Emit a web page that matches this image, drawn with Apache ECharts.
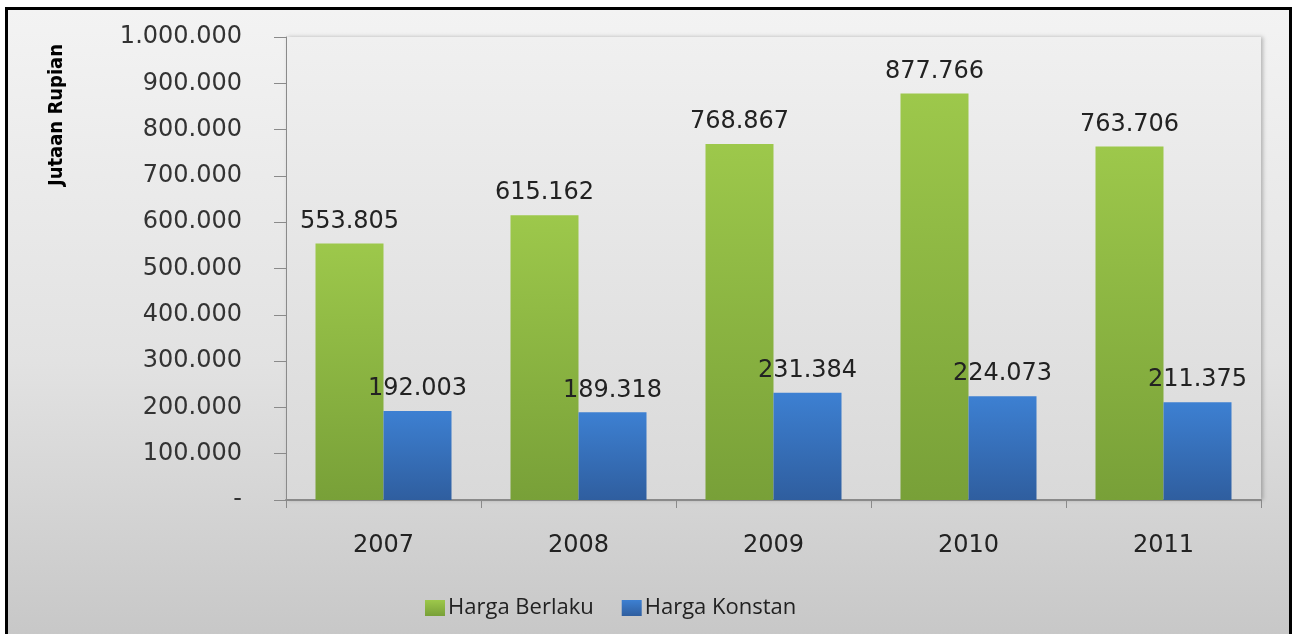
<!DOCTYPE html>
<html>
<head>
<meta charset="utf-8">
<title>Harga Berlaku dan Harga Konstan</title>
<script src="https://cdn.jsdelivr.net/npm/echarts@6/dist/echarts.min.js"></script>
<style>
	body { margin: 0; background: #fff; }
	#frame {
		position: absolute; left: 5px; top: 7px; width: 1281px; height: 640px;
		border: 3px solid #000;
		background: linear-gradient(to bottom, #f3f3f3 0%, #e2e2e2 55%, #c6c6c6 100%);
	}
	#chart { position: absolute; left: 0; top: 0; width: 1297px; height: 634px; }
</style>
</head>
<body>
<div id="frame"></div>
<div id="chart"></div>
<script>
// data
var years = ['2007', '2008', '2009', '2010', '2011'];
var hargaBerlaku = [553805, 615162, 768867, 877766, 763706];
var hargaKonstan = [192003, 189318, 231384, 224073, 211375];
var seriesNames = ['Harga Berlaku', 'Harga Konstan'];

function dots(v) {
	if (v === 0) return '-';
	return String(v).replace(/\B(?=(\d{3})+(?!\d))/g, '.');
}

(function(){
	var chart = echarts.init(document.getElementById('chart'));
	var labelFont = 'DejaVu Sans, Verdana, sans-serif';

	var option = {
		animation: false,
		grid: {
			left: 286,
			right: 36,
			top: 37,
			bottom: 134,
			show: true,
			borderWidth: 0,
			backgroundColor: new echarts.graphic.LinearGradient(0, 0, 0, 1, [
				{ offset: 0, color: '#f0f0f0' },
				{ offset: 1, color: '#d9d9d9' }
			]),
			shadowColor: 'rgba(0,0,0,0.25)',
			shadowBlur: 4,
			shadowOffsetX: 2
		},
		graphic: [{
			type: 'text',
			x: 57,
			y: 115,
			rotation: Math.PI / 2,
			style: {
				text: 'Jutaan Rupian',
				font: 'bold 20px "DejaVu Sans Condensed", "Liberation Sans Narrow", sans-serif',
				fill: '#000',
				align: 'center',
				verticalAlign: 'middle'
			}
		}],
		legend: {
			data: seriesNames,
			left: 420,
			top: 592,
			itemWidth: 20,
			itemHeight: 16,
			itemGap: 28,
			icon: 'rect',
			textStyle: {
				fontFamily: 'Open Sans, sans-serif',
				fontSize: 22,
				color: '#222',
				padding: [0, 0, 0, -2]
			}
		},
		xAxis: [{
			type: 'category',
			data: years,
			axisLine: { lineStyle: { color: '#8a8a8a', width: 2 } },
			axisTick: { show: true, length: 8, lineStyle: { color: '#8a8a8a' } },
			axisLabel: {
				margin: 34,
				fontFamily: labelFont,
				fontSize: 24,
				color: '#222'
			}
		}],
		yAxis: [{
			type: 'value',
			min: 0,
			max: 1000000,
			interval: 100000,
			axisLine: { show: true, lineStyle: { color: '#8a8a8a' } },
			axisTick: { show: true, length: 12, lineStyle: { color: '#8a8a8a' } },
			splitLine: { show: false },
			axisLabel: {
				margin: 44,
				fontFamily: labelFont,
				fontSize: 24,
				color: '#333',
				formatter: dots
			}
		}],
		series: [
			{
				name: seriesNames[0],
				type: 'bar',
				data: hargaBerlaku,
				barWidth: 68,
				barGap: '0%',
				itemStyle: {
					color: new echarts.graphic.LinearGradient(0, 0, 0, 1, [
						{ offset: 0, color: '#9dc84b' },
						{ offset: 1, color: '#78a038' }
					])
				},
				label: {
					show: true,
					position: 'top',
					distance: 10,
					fontFamily: labelFont,
					fontSize: 24,
					color: '#222',
					formatter: function (p) { return dots(p.value); }
				}
			},
			{
				name: seriesNames[1],
				type: 'bar',
				data: hargaKonstan,
				barWidth: 68,
				itemStyle: {
					color: new echarts.graphic.LinearGradient(0, 0, 0, 1, [
						{ offset: 0, color: '#3d80d2' },
						{ offset: 1, color: '#2f5e9f' }
					])
				},
				label: {
					show: true,
					position: 'top',
					distance: 10,
					fontFamily: labelFont,
					fontSize: 24,
					color: '#222',
					formatter: function (p) { return dots(p.value); }
				}
			}
		]
	};
	chart.setOption(option);

	window.onresize = function () {
		chart.resize();
	};
})();
</script>
</body>
</html>
